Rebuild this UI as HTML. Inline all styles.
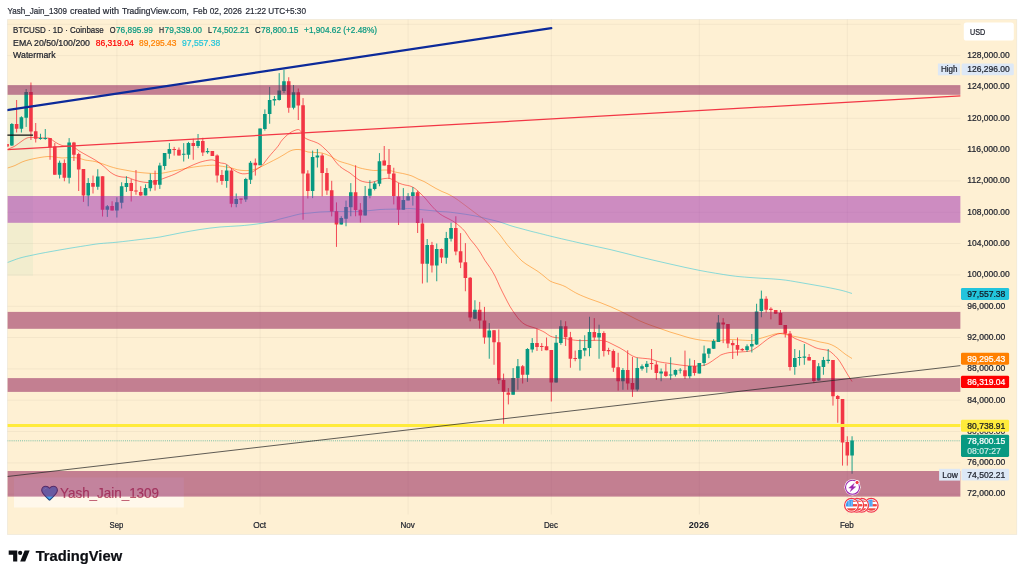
<!DOCTYPE html>
<html lang="en"><head><meta charset="utf-8"><title>BTCUSD 1D Coinbase - TradingView snapshot</title>
<style>
html,body{margin:0;padding:0;background:#fff}
body{width:1024px;height:578px;position:relative;overflow:hidden}
svg{display:block;font-family:"Liberation Sans",sans-serif}
</style></head><body>
<svg width="1024" height="578" viewBox="0 0 1024 578" >
<defs><clipPath id="plot"><rect x="7.4" y="19.4" width="953.2" height="495.1"/></clipPath></defs>
<rect x="7.4" y="19.4" width="1009.4" height="515.2" fill="#FEF0D3" stroke="#9a9a9a" stroke-opacity="0.13" stroke-width="0.9"/>
<path d="M7.4 24.27H960.6M7.4 55.60H960.6M7.4 86.93H960.6M7.4 118.26H960.6M7.4 149.59H960.6M7.4 180.92H960.6M7.4 212.25H960.6M7.4 243.58H960.6M7.4 274.91H960.6M7.4 306.24H960.6M7.4 337.57H960.6M7.4 368.90H960.6M7.4 400.23H960.6M7.4 431.56H960.6M7.4 462.89H960.6M7.4 494.22H960.6M116.88 19.4V514.5M260.10 19.4V514.5M408.09 19.4V514.5M551.31 19.4V514.5M699.31 19.4V514.5M847.30 19.4V514.5" stroke="#000" stroke-opacity="0.055" stroke-width="0.8" fill="none"/>
<g clip-path="url(#plot)">
<rect x="7.4" y="85.1" width="25.6" height="190.6" fill="#A6D9B0" fill-opacity="0.13"/>
<rect x="14" y="477.5" width="169.8" height="30" fill="#fff" fill-opacity="0.55"/>
<path d="M7.4 440.8H960.6" stroke="#089981" stroke-width="0.8" stroke-dasharray="0.9 1.2" stroke-opacity="0.75"/>
<path d="M7.5 262.5C9.6 261.8 15.8 259.2 20.0 258.0C24.2 256.8 28.0 256.1 33.0 255.0C38.0 253.9 43.8 252.8 50.0 251.7C56.2 250.6 63.3 249.3 70.0 248.2C76.7 247.1 85.0 245.8 90.0 245.0C95.0 244.2 95.5 244.1 100.0 243.6C104.5 243.1 110.3 242.9 117.0 242.2C123.7 241.5 132.8 240.4 140.0 239.5C147.2 238.6 153.3 238.1 160.0 237.0C166.7 235.9 173.3 234.2 180.0 233.0C186.7 231.8 193.3 230.5 200.0 229.5C206.7 228.5 213.3 227.6 220.0 227.0C226.7 226.4 233.8 226.3 240.0 225.8C246.2 225.3 252.0 224.7 257.0 224.0C262.0 223.3 266.2 222.6 270.0 221.8C273.8 221.0 276.7 219.9 280.0 219.0C283.3 218.1 286.7 217.3 290.0 216.5C293.3 215.7 296.7 214.6 300.0 214.0C303.3 213.4 306.7 213.3 310.0 213.0C313.3 212.7 316.7 212.2 320.0 212.0C323.3 211.8 326.7 211.7 330.0 211.6C333.3 211.5 335.0 211.5 340.0 211.5C345.0 211.5 353.3 211.8 360.0 211.5C366.7 211.2 373.3 209.9 380.0 209.5C386.7 209.1 395.0 209.2 400.0 209.0C405.0 208.8 406.7 208.4 410.0 208.5C413.3 208.6 416.7 209.2 420.0 209.5C423.3 209.8 426.7 210.2 430.0 210.5C433.3 210.8 437.0 211.2 440.0 211.5C443.0 211.8 444.7 211.7 448.0 212.0C451.3 212.3 456.3 213.0 460.0 213.5C463.7 214.0 466.7 214.4 470.0 215.0C473.3 215.6 476.7 216.2 480.0 217.0C483.3 217.8 486.7 218.7 490.0 219.5C493.3 220.3 496.7 221.0 500.0 222.0C503.3 223.0 506.7 224.4 510.0 225.5C513.3 226.6 516.7 227.4 520.0 228.3C523.3 229.2 527.0 230.2 530.0 231.0C533.0 231.8 534.3 232.1 538.0 233.0C541.7 233.9 545.0 234.8 552.0 236.5C559.0 238.2 570.3 240.8 580.0 243.0C589.7 245.2 600.0 247.2 610.0 249.5C620.0 251.8 630.0 254.6 640.0 257.0C650.0 259.4 660.0 261.8 670.0 264.0C680.0 266.2 690.0 268.6 700.0 270.5C710.0 272.4 721.7 274.3 730.0 275.5C738.3 276.7 741.7 276.8 750.0 277.5C758.3 278.2 771.7 278.7 780.0 279.5C788.3 280.3 793.3 281.4 800.0 282.5C806.7 283.6 813.3 284.8 820.0 286.0C826.7 287.2 834.7 288.8 840.0 290.0C845.3 291.2 850.0 292.9 852.0 293.5" stroke="#26C6DA" stroke-width="0.9" fill="none" stroke-linejoin="round" stroke-opacity="0.6"/>
<path d="M7.5 168.0C8.8 167.6 12.6 166.5 15.0 165.5C17.4 164.5 19.5 163.0 22.0 162.0C24.5 161.0 27.0 160.2 30.0 159.5C33.0 158.8 37.0 158.0 40.0 157.5C43.0 157.0 45.5 156.6 48.0 156.5C50.5 156.4 52.7 156.8 55.0 157.0C57.3 157.2 59.5 157.9 62.0 158.0C64.5 158.1 67.3 157.5 70.0 157.5C72.7 157.5 75.5 157.6 78.0 158.0C80.5 158.4 82.2 159.4 85.0 160.0C87.8 160.6 92.0 160.8 95.0 161.5C98.0 162.2 100.5 163.2 103.0 164.0C105.5 164.8 107.7 165.8 110.0 166.5C112.3 167.2 114.5 167.9 117.0 168.5C119.5 169.1 122.3 169.5 125.0 170.0C127.7 170.5 130.5 171.1 133.0 171.5C135.5 171.9 137.5 172.2 140.0 172.5C142.5 172.8 145.5 173.0 148.0 173.2C150.5 173.4 152.6 173.5 155.0 173.5C157.4 173.5 159.2 173.6 162.5 173.1C165.8 172.6 170.8 171.4 175.0 170.6C179.2 169.8 183.3 168.8 187.5 168.1C191.7 167.4 195.8 166.7 200.0 166.2C204.2 165.8 209.2 165.3 212.5 165.2C215.8 165.2 216.9 165.6 220.0 166.0C223.1 166.4 228.1 167.3 231.0 167.9C233.9 168.5 235.2 169.3 237.5 169.8C239.8 170.2 242.5 170.6 245.0 170.6C247.5 170.6 250.0 170.6 252.5 170.0C255.0 169.4 257.3 168.5 260.0 167.2C262.7 166.0 265.8 164.3 268.8 162.8C271.8 161.2 275.3 159.6 278.0 158.1C280.7 156.6 283.0 155.2 285.0 154.0C287.0 152.8 288.2 151.8 290.0 151.0C291.8 150.2 294.0 149.7 296.0 149.5C298.0 149.3 300.0 149.6 302.0 150.0C304.0 150.4 305.8 151.6 308.0 152.0C310.2 152.4 312.7 152.3 315.0 152.5C317.3 152.7 319.5 152.4 322.0 153.0C324.5 153.6 327.8 155.0 330.0 156.0C332.2 157.0 333.3 158.1 335.0 159.0C336.7 159.9 337.5 160.6 340.0 161.5C342.5 162.4 346.7 163.4 350.0 164.5C353.3 165.6 356.7 167.1 360.0 168.0C363.3 168.9 367.5 169.6 370.0 170.0C372.5 170.4 372.5 170.5 375.0 170.5C377.5 170.5 382.5 170.0 385.0 170.0C387.5 170.0 388.3 170.2 390.0 170.5C391.7 170.8 392.5 171.4 395.0 172.0C397.5 172.6 402.2 173.3 405.0 174.0C407.8 174.7 409.8 175.2 412.0 176.0C414.2 176.8 416.0 178.1 418.0 179.0C420.0 179.9 422.0 180.5 424.0 181.5C426.0 182.5 428.0 183.8 430.0 185.0C432.0 186.2 434.0 187.4 436.0 188.5C438.0 189.6 440.0 190.6 442.0 191.5C444.0 192.4 445.8 192.9 448.0 194.0C450.2 195.1 452.7 196.5 455.0 198.0C457.3 199.5 459.5 201.2 462.0 203.0C464.5 204.8 467.3 207.0 470.0 209.0C472.7 211.0 475.5 213.2 478.0 215.0C480.5 216.8 482.7 218.2 485.0 220.0C487.3 221.8 489.5 223.5 492.0 226.0C494.5 228.5 497.5 231.9 500.0 235.0C502.5 238.1 504.5 241.4 507.0 244.5C509.5 247.6 512.5 250.8 515.0 253.5C517.5 256.2 519.5 258.8 522.0 261.0C524.5 263.2 527.3 264.8 530.0 266.5C532.7 268.2 535.5 269.8 538.0 271.5C540.5 273.2 543.0 275.4 545.0 277.0C547.0 278.6 548.3 280.0 550.0 281.0C551.7 282.0 553.3 282.4 555.0 283.0C556.7 283.6 558.3 283.9 560.0 284.5C561.7 285.1 563.3 285.7 565.0 286.5C566.7 287.3 567.8 288.2 570.0 289.5C572.2 290.8 574.7 292.4 578.0 294.0C581.3 295.6 586.3 297.6 590.0 299.0C593.7 300.4 596.7 301.2 600.0 302.5C603.3 303.8 606.7 305.1 610.0 306.5C613.3 307.9 616.7 309.4 620.0 311.0C623.3 312.6 626.7 314.3 630.0 316.0C633.3 317.7 636.7 319.5 640.0 321.0C643.3 322.5 646.7 323.8 650.0 325.0C653.3 326.2 656.7 327.3 660.0 328.5C663.3 329.7 666.7 330.9 670.0 332.0C673.3 333.1 676.7 334.0 680.0 335.0C683.3 336.0 686.7 337.2 690.0 338.0C693.3 338.8 696.7 339.5 700.0 340.0C703.3 340.5 706.7 340.9 710.0 341.0C713.3 341.1 716.7 340.8 720.0 340.5C723.3 340.2 726.7 339.6 730.0 339.5C733.3 339.4 736.7 339.8 740.0 340.0C743.3 340.2 747.5 340.5 750.0 340.5C752.5 340.5 753.3 340.3 755.0 340.0C756.7 339.7 757.5 339.2 760.0 338.5C762.5 337.8 767.5 336.2 770.0 335.5C772.5 334.8 773.3 334.3 775.0 334.0C776.7 333.7 777.5 333.2 780.0 333.5C782.5 333.8 786.7 334.8 790.0 335.5C793.3 336.2 796.7 336.8 800.0 337.5C803.3 338.2 806.7 338.8 810.0 339.5C813.3 340.2 817.0 341.3 820.0 342.0C823.0 342.7 825.5 342.8 828.0 343.5C830.5 344.2 833.0 345.4 835.0 346.5C837.0 347.6 838.3 348.8 840.0 350.0C841.7 351.2 843.0 352.6 845.0 354.0C847.0 355.4 850.8 357.8 852.0 358.5" stroke="#FF8000" stroke-width="0.9" fill="none" stroke-linejoin="round" stroke-opacity="0.6"/>
<path d="M7.5 149.4C8.8 148.8 12.6 147.4 15.0 146.0C17.4 144.6 20.0 142.3 22.0 141.0C24.0 139.7 25.2 138.6 27.0 138.0C28.8 137.4 30.0 137.5 33.0 137.5C36.0 137.5 42.2 137.8 45.0 138.0C47.8 138.2 48.3 137.8 50.0 138.5C51.7 139.2 53.0 140.8 55.0 142.0C57.0 143.2 59.5 144.8 62.0 145.5C64.5 146.2 67.8 145.6 70.0 146.0C72.2 146.4 73.3 147.1 75.0 148.0C76.7 148.9 77.8 150.2 80.0 151.5C82.2 152.8 85.3 154.5 88.0 156.0C90.7 157.5 93.3 158.8 96.0 160.5C98.7 162.2 101.7 164.6 104.0 166.5C106.3 168.4 108.0 170.5 110.0 172.0C112.0 173.5 114.0 174.7 116.0 175.5C118.0 176.3 120.0 176.7 122.0 177.0C124.0 177.3 126.2 177.1 128.0 177.5C129.8 177.9 131.0 178.8 133.0 179.5C135.0 180.2 137.7 181.0 140.0 181.5C142.3 182.0 145.0 182.4 147.0 182.5C149.0 182.6 150.2 182.3 152.0 182.0C153.8 181.7 156.2 181.0 158.0 180.5C159.8 180.0 159.7 179.8 162.5 178.8C165.3 177.7 170.8 175.9 175.0 174.0C179.2 172.1 183.3 169.5 187.5 167.5C191.7 165.5 196.2 163.5 200.0 162.2C203.8 161.0 207.5 160.3 210.0 160.0C212.5 159.7 213.3 160.1 215.0 160.6C216.7 161.1 218.2 162.2 220.0 162.8C221.8 163.3 224.2 163.1 226.0 164.0C227.8 164.9 229.1 166.7 231.0 168.1C232.9 169.5 235.6 171.3 237.5 172.2C239.4 173.2 240.8 173.5 242.5 173.8C244.2 174.0 245.8 173.8 247.5 173.5C249.2 173.2 250.8 172.7 252.5 171.9C254.2 171.1 255.8 169.9 257.5 168.8C259.2 167.6 260.6 167.0 262.5 165.0C264.4 163.0 266.2 160.0 268.8 156.9C271.3 153.8 276.0 148.8 278.0 146.2C280.0 143.7 279.8 143.0 281.0 141.5C282.2 140.0 283.5 138.4 285.0 137.0C286.5 135.6 288.3 133.9 290.0 132.8C291.7 131.7 293.6 130.8 295.0 130.3C296.4 129.8 297.5 129.4 298.5 129.6C299.5 129.8 300.1 130.3 301.0 131.5C301.9 132.7 302.8 135.7 304.0 137.0C305.2 138.3 306.2 138.7 308.0 139.5C309.8 140.3 313.0 141.2 315.0 142.0C317.0 142.8 318.3 143.3 320.0 144.5C321.7 145.7 323.3 147.4 325.0 149.0C326.7 150.6 328.3 152.0 330.0 154.0C331.7 156.0 333.3 158.9 335.0 161.0C336.7 163.1 338.3 165.0 340.0 166.5C341.7 168.0 343.3 168.9 345.0 170.0C346.7 171.1 348.3 171.8 350.0 173.0C351.7 174.2 353.3 175.8 355.0 177.0C356.7 178.2 358.3 179.7 360.0 180.5C361.7 181.3 363.3 181.7 365.0 182.0C366.7 182.3 368.3 182.6 370.0 182.5C371.7 182.4 373.3 182.0 375.0 181.5C376.7 181.0 378.3 180.0 380.0 179.5C381.7 179.0 383.3 178.7 385.0 178.5C386.7 178.3 388.3 178.1 390.0 178.5C391.7 178.9 393.3 180.2 395.0 181.0C396.7 181.8 398.3 182.8 400.0 183.5C401.7 184.2 403.3 184.6 405.0 185.0C406.7 185.4 408.3 185.4 410.0 186.0C411.7 186.6 413.3 187.3 415.0 188.5C416.7 189.7 418.3 191.4 420.0 193.0C421.7 194.6 423.3 196.2 425.0 198.0C426.7 199.8 428.3 202.1 430.0 204.0C431.7 205.9 433.3 207.8 435.0 209.5C436.7 211.2 438.3 212.8 440.0 214.0C441.7 215.2 443.3 216.1 445.0 217.0C446.7 217.9 448.3 218.6 450.0 219.5C451.7 220.4 453.3 221.3 455.0 222.5C456.7 223.7 458.3 225.0 460.0 226.5C461.7 228.0 463.3 229.4 465.0 231.5C466.7 233.6 468.3 236.8 470.0 239.0C471.7 241.2 473.3 242.8 475.0 245.0C476.7 247.2 478.3 249.4 480.0 252.0C481.7 254.6 483.3 257.9 485.0 260.5C486.7 263.1 488.3 264.9 490.0 267.5C491.7 270.1 493.3 272.8 495.0 276.0C496.7 279.2 498.3 283.5 500.0 287.0C501.7 290.5 503.3 293.8 505.0 297.0C506.7 300.2 508.3 303.7 510.0 306.5C511.7 309.3 513.3 311.7 515.0 314.0C516.7 316.3 518.3 318.8 520.0 320.5C521.7 322.2 523.3 323.5 525.0 324.5C526.7 325.5 528.3 325.9 530.0 326.5C531.7 327.1 533.3 327.4 535.0 328.0C536.7 328.6 538.3 329.2 540.0 330.0C541.7 330.8 543.3 331.5 545.0 332.5C546.7 333.5 548.3 335.2 550.0 336.0C551.7 336.8 553.3 337.2 555.0 337.5C556.7 337.8 558.3 337.8 560.0 338.0C561.7 338.2 563.3 338.2 565.0 338.5C566.7 338.8 567.8 339.2 570.0 339.5C572.2 339.8 574.7 340.3 578.0 340.5C581.3 340.7 586.7 340.5 590.0 340.5C593.3 340.5 595.5 340.2 598.0 340.3C600.5 340.4 603.0 340.6 605.0 341.0C607.0 341.4 608.3 342.2 610.0 343.0C611.7 343.8 613.3 344.7 615.0 345.5C616.7 346.3 618.3 347.1 620.0 348.0C621.7 348.9 623.3 349.9 625.0 351.0C626.7 352.1 628.3 353.5 630.0 354.5C631.7 355.5 633.3 356.4 635.0 357.0C636.7 357.6 637.5 357.7 640.0 358.0C642.5 358.3 647.5 358.6 650.0 359.0C652.5 359.4 653.3 360.0 655.0 360.5C656.7 361.0 657.5 361.5 660.0 362.0C662.5 362.5 666.7 363.0 670.0 363.5C673.3 364.0 676.7 364.6 680.0 365.0C683.3 365.4 686.7 365.9 690.0 366.0C693.3 366.1 697.5 366.0 700.0 365.8C702.5 365.6 703.3 365.6 705.0 365.0C706.7 364.4 708.3 363.5 710.0 362.5C711.7 361.5 713.7 359.9 715.0 359.0C716.3 358.1 716.8 357.8 718.0 357.0C719.2 356.2 720.0 355.2 722.0 354.5C724.0 353.8 727.0 352.9 730.0 352.5C733.0 352.1 736.7 352.2 740.0 352.0C743.3 351.8 747.5 351.6 750.0 351.0C752.5 350.4 753.3 349.5 755.0 348.5C756.7 347.5 758.3 346.2 760.0 345.0C761.7 343.8 763.3 342.2 765.0 341.0C766.7 339.8 768.3 338.5 770.0 337.5C771.7 336.5 773.3 335.7 775.0 335.0C776.7 334.3 778.3 333.8 780.0 333.5C781.7 333.2 783.3 333.2 785.0 333.5C786.7 333.8 788.3 334.7 790.0 335.5C791.7 336.3 793.3 337.7 795.0 338.5C796.7 339.3 798.3 339.8 800.0 340.5C801.7 341.2 803.3 341.8 805.0 342.5C806.7 343.2 808.3 344.2 810.0 345.0C811.7 345.8 813.3 346.8 815.0 347.5C816.7 348.2 817.8 348.5 820.0 349.0C822.2 349.5 826.0 349.8 828.0 350.5C830.0 351.2 830.3 351.6 832.0 353.0C833.7 354.4 836.3 357.0 838.0 359.0C839.7 361.0 840.5 362.6 842.0 365.0C843.5 367.4 845.3 370.8 847.0 373.5C848.7 376.2 851.2 380.2 852.0 381.5" stroke="#FF0000" stroke-width="0.9" fill="none" stroke-linejoin="round" stroke-opacity="0.58"/>
<path d="M11.85 123.00V146.00M21.40 116.25V132.50M26.17 89.00V126.90M40.49 133.75V139.75M45.27 129.00V139.75M59.59 160.60V178.50M69.14 138.10V183.50M88.23 178.10V206.25M97.78 169.20V189.75M107.33 205.00V216.90M116.88 197.25V217.50M121.65 182.25V208.50M126.43 176.25V191.90M145.52 184.40V195.40M150.30 173.50V191.25M159.84 162.75V188.90M164.62 153.10V169.75M169.39 143.10V158.75M183.71 143.10V161.50M188.49 141.90V158.75M198.04 134.00V148.10M207.58 148.10V153.75M226.68 164.75V187.75M236.23 193.50V207.25M245.78 177.80V201.90M250.55 161.00V184.00M260.10 128.50V165.25M264.87 109.40V130.60M269.65 86.90V123.75M274.42 96.00V105.60M279.19 73.10V100.60M283.97 69.75V93.10M293.52 85.00V109.40M312.61 150.60V198.10M317.39 149.00V167.50M341.26 216.25V224.60M346.03 200.60V226.25M350.80 183.10V216.25M365.13 186.00V215.60M369.90 180.25V198.30M374.67 181.50V190.40M379.45 153.10V186.25M403.32 188.10V209.75M408.09 193.10V200.40M412.87 187.10V205.60M427.19 239.00V282.50M436.74 243.50V281.25M446.28 231.90V263.75M451.06 222.75V241.50M474.93 300.25V319.00M489.25 323.10V358.75M513.12 368.10V394.75M517.89 359.00V389.75M527.44 348.10V381.90M532.22 338.10V352.50M556.09 335.00V382.60M560.86 320.25V344.75M579.96 339.40V370.60M584.73 335.25V356.25M589.50 316.75V356.25M599.05 324.70V358.75M622.92 368.10V389.75M637.24 357.75V391.25M642.02 364.40V370.60M646.79 361.00V372.75M661.11 368.50V381.25M670.66 357.25V379.75M675.44 369.40V376.50M680.21 368.10V373.50M689.76 358.50V378.50M699.31 363.00V373.60M704.08 345.60V366.00M708.85 348.00V358.10M713.63 339.20V349.00M718.40 315.00V342.00M747.05 344.40V351.90M751.82 334.00V352.50M756.59 303.75V345.00M761.37 290.60V317.25M794.79 349.00V374.75M799.56 350.25V365.60M804.33 344.00V364.75M818.66 363.10V380.60M823.43 356.90V374.75M828.20 349.00V363.50M852.07 436.25V473.75" stroke="#089981" stroke-width="0.9" fill="none"/>
<path d="M10.05 124.00h3.6V145.60h-3.6zM19.60 117.25h3.6V128.75h-3.6zM24.37 92.10h3.6V117.75h-3.6zM38.69 138.10h3.6V139.00h-3.6zM43.47 138.10h3.6V139.00h-3.6zM57.79 162.75h3.6V174.75h-3.6zM67.34 142.50h3.6V177.75h-3.6zM86.43 183.10h3.6V195.60h-3.6zM95.98 176.40h3.6V186.75h-3.6zM105.53 206.25h3.6V209.75h-3.6zM115.08 202.25h3.6V210.60h-3.6zM119.85 186.25h3.6V202.75h-3.6zM124.63 183.10h3.6V186.90h-3.6zM143.72 188.10h3.6V195.40h-3.6zM148.50 180.00h3.6V188.30h-3.6zM158.04 165.60h3.6V184.75h-3.6zM162.82 153.10h3.6V166.00h-3.6zM167.59 149.00h3.6V153.75h-3.6zM181.91 153.75h3.6V154.75h-3.6zM186.69 142.90h3.6V154.75h-3.6zM196.24 141.00h3.6V146.00h-3.6zM205.78 151.00h3.6V152.25h-3.6zM224.88 170.60h3.6V181.00h-3.6zM234.43 199.00h3.6V204.00h-3.6zM243.98 179.00h3.6V199.40h-3.6zM248.75 162.75h3.6V179.75h-3.6zM258.30 128.50h3.6V165.25h-3.6zM263.07 114.00h3.6V129.00h-3.6zM267.85 100.00h3.6V114.00h-3.6zM272.62 99.10h3.6V100.60h-3.6zM277.39 90.60h3.6V100.00h-3.6zM282.17 81.25h3.6V91.00h-3.6zM291.72 92.25h3.6V107.75h-3.6zM310.81 156.90h3.6V191.00h-3.6zM315.59 155.60h3.6V157.50h-3.6zM339.46 218.10h3.6V224.60h-3.6zM344.23 206.90h3.6V218.75h-3.6zM349.00 192.20h3.6V207.25h-3.6zM363.33 195.90h3.6V215.60h-3.6zM368.10 188.75h3.6V195.80h-3.6zM372.87 183.50h3.6V189.00h-3.6zM377.65 161.25h3.6V183.75h-3.6zM401.52 200.00h3.6V209.75h-3.6zM406.29 196.25h3.6V200.40h-3.6zM411.07 192.20h3.6V196.00h-3.6zM425.39 245.00h3.6V263.75h-3.6zM434.94 249.00h3.6V265.40h-3.6zM444.48 238.10h3.6V257.75h-3.6zM449.26 228.10h3.6V238.75h-3.6zM473.13 309.75h3.6V318.75h-3.6zM487.45 330.40h3.6V337.50h-3.6zM511.32 378.10h3.6V394.75h-3.6zM516.09 366.25h3.6V378.10h-3.6zM525.64 349.00h3.6V374.75h-3.6zM530.42 343.10h3.6V349.40h-3.6zM554.29 342.75h3.6V382.60h-3.6zM559.06 326.25h3.6V343.10h-3.6zM578.16 350.00h3.6V358.75h-3.6zM582.93 348.10h3.6V350.40h-3.6zM587.70 331.90h3.6V348.10h-3.6zM597.25 333.10h3.6V337.50h-3.6zM621.12 370.00h3.6V381.25h-3.6zM635.44 368.10h3.6V389.40h-3.6zM640.22 366.25h3.6V368.75h-3.6zM644.99 363.75h3.6V366.90h-3.6zM659.31 371.50h3.6V373.40h-3.6zM668.86 374.40h3.6V375.60h-3.6zM673.64 370.00h3.6V374.75h-3.6zM678.41 369.73h3.6V370.62h-3.6zM687.96 366.00h3.6V376.25h-3.6zM697.51 363.10h3.6V373.40h-3.6zM702.28 353.50h3.6V363.10h-3.6zM707.05 348.40h3.6V353.75h-3.6zM711.83 341.10h3.6V348.75h-3.6zM716.60 322.50h3.6V341.90h-3.6zM745.25 346.25h3.6V350.00h-3.6zM750.02 344.00h3.6V346.60h-3.6zM754.79 311.50h3.6V344.40h-3.6zM759.57 298.75h3.6V311.00h-3.6zM792.99 358.10h3.6V366.90h-3.6zM797.76 356.90h3.6V358.10h-3.6zM802.53 356.60h3.6V357.75h-3.6zM816.86 366.25h3.6V380.60h-3.6zM821.63 360.00h3.6V366.90h-3.6zM826.40 359.75h3.6V361.00h-3.6zM850.27 440.60h3.6V455.60h-3.6z" fill="#089981"/>
<path d="M7.08 144.00V147.00M16.62 100.00V132.50M30.95 82.50V140.00M35.72 123.00V142.50M50.04 138.10V159.75M54.82 143.00V174.75M64.36 159.40V181.25M73.91 141.90V161.00M78.69 152.75V191.00M83.46 169.00V201.90M93.01 175.60V193.50M102.56 176.25V216.50M112.10 201.25V210.60M131.20 179.00V201.50M135.97 170.00V194.75M140.75 186.25V196.00M155.07 170.60V190.60M174.17 146.90V155.60M178.94 147.50V155.60M193.26 138.75V159.75M202.81 137.75V156.00M212.36 151.00V156.00M217.13 154.40V182.50M221.91 170.00V184.75M231.45 168.10V207.25M241.00 198.50V203.75M255.32 158.50V175.60M288.74 77.25V112.75M298.29 88.50V120.00M303.06 98.10V219.75M307.84 170.25V198.50M322.16 153.50V196.25M326.93 168.10V194.90M331.71 180.80V216.40M336.48 202.40V246.90M355.58 165.25V216.25M360.35 203.10V222.50M384.22 146.00V165.60M389.00 149.00V178.75M393.77 167.75V204.40M398.54 183.10V225.00M417.64 190.60V233.00M422.41 218.30V283.50M431.96 241.90V272.50M441.51 248.50V263.10M455.83 216.25V255.25M460.61 233.10V268.10M465.38 243.10V291.25M470.15 277.00V321.25M479.70 301.90V328.50M484.48 306.90V343.75M494.02 330.00V364.75M498.80 329.40V384.00M503.57 373.60V423.75M508.35 388.10V404.40M522.67 365.00V383.50M536.99 328.75V351.00M541.76 343.10V351.00M546.54 337.50V350.25M551.31 350.00V401.50M565.63 321.25V346.00M570.41 331.90V367.75M575.18 350.60V361.25M594.28 318.10V340.60M603.83 331.25V356.50M608.60 347.75V354.75M613.37 349.40V371.90M618.15 352.75V390.60M627.70 350.25V389.75M632.47 356.90V396.90M651.57 349.00V369.75M656.34 361.25V379.75M665.89 363.75V376.90M684.98 350.60V379.00M694.53 360.00V375.60M723.18 318.10V343.10M727.95 324.00V348.10M732.72 340.30V359.00M737.50 337.50V355.60M742.27 348.10V351.25M766.14 296.25V312.50M770.92 307.25V319.40M775.69 310.00V313.75M780.46 310.00V325.00M785.24 325.00V337.50M790.01 331.00V370.60M809.11 354.00V360.60M813.88 360.00V383.10M832.98 360.00V405.60M837.75 395.00V422.75M842.53 399.00V465.60M847.30 436.25V465.60" stroke="#F23645" stroke-width="0.9" fill="none"/>
<path d="M5.28 144.00h3.6V146.50h-3.6zM14.82 124.00h3.6V128.75h-3.6zM29.15 92.10h3.6V131.50h-3.6zM33.92 131.25h3.6V138.75h-3.6zM48.24 138.10h3.6V147.25h-3.6zM53.02 146.50h3.6V174.75h-3.6zM62.56 162.90h3.6V177.75h-3.6zM72.11 142.50h3.6V154.75h-3.6zM76.89 154.00h3.6V169.50h-3.6zM81.66 169.00h3.6V195.60h-3.6zM91.21 183.10h3.6V186.75h-3.6zM100.76 176.25h3.6V209.75h-3.6zM110.30 206.00h3.6V210.60h-3.6zM129.40 183.10h3.6V191.00h-3.6zM134.17 190.48h3.6V191.38h-3.6zM138.95 191.90h3.6V195.40h-3.6zM153.27 180.00h3.6V184.75h-3.6zM172.37 149.00h3.6V150.00h-3.6zM177.14 149.75h3.6V155.60h-3.6zM191.46 142.90h3.6V146.00h-3.6zM201.01 141.00h3.6V152.50h-3.6zM210.56 151.00h3.6V156.00h-3.6zM215.33 155.40h3.6V175.40h-3.6zM220.11 175.00h3.6V181.00h-3.6zM229.65 170.60h3.6V203.75h-3.6zM239.20 198.50h3.6V199.75h-3.6zM253.52 162.75h3.6V165.25h-3.6zM286.94 81.25h3.6V107.75h-3.6zM296.49 92.25h3.6V105.60h-3.6zM301.26 105.25h3.6V173.60h-3.6zM306.04 173.50h3.6V191.00h-3.6zM320.36 155.40h3.6V173.10h-3.6zM325.13 173.10h3.6V190.60h-3.6zM329.91 190.30h3.6V211.40h-3.6zM334.68 211.25h3.6V224.40h-3.6zM353.78 192.20h3.6V210.00h-3.6zM358.55 209.75h3.6V215.60h-3.6zM382.42 160.60h3.6V165.60h-3.6zM387.20 165.00h3.6V173.75h-3.6zM391.97 173.50h3.6V196.00h-3.6zM396.74 196.40h3.6V209.75h-3.6zM415.84 192.20h3.6V223.10h-3.6zM420.61 223.60h3.6V263.75h-3.6zM430.16 245.00h3.6V265.40h-3.6zM439.71 249.00h3.6V257.50h-3.6zM454.03 228.10h3.6V251.60h-3.6zM458.81 251.25h3.6V262.50h-3.6zM463.58 262.25h3.6V278.10h-3.6zM468.35 277.75h3.6V317.50h-3.6zM477.90 309.75h3.6V320.60h-3.6zM482.68 320.40h3.6V337.40h-3.6zM492.22 330.25h3.6V342.25h-3.6zM497.00 342.25h3.6V380.30h-3.6zM501.77 380.00h3.6V391.70h-3.6zM506.55 392.60h3.6V394.75h-3.6zM520.87 366.25h3.6V374.75h-3.6zM535.19 343.10h3.6V346.90h-3.6zM539.96 346.00h3.6V346.90h-3.6zM544.74 346.25h3.6V350.25h-3.6zM549.51 350.00h3.6V382.60h-3.6zM563.83 326.25h3.6V337.25h-3.6zM568.61 337.25h3.6V358.75h-3.6zM573.38 358.10h3.6V359.00h-3.6zM592.48 331.90h3.6V337.50h-3.6zM602.03 333.10h3.6V351.00h-3.6zM606.80 350.00h3.6V351.25h-3.6zM611.57 351.00h3.6V367.75h-3.6zM616.35 367.25h3.6V381.25h-3.6zM625.90 370.00h3.6V383.50h-3.6zM630.67 383.10h3.6V389.40h-3.6zM649.77 363.10h3.6V364.00h-3.6zM654.54 364.40h3.6V373.10h-3.6zM664.09 371.50h3.6V376.00h-3.6zM683.18 370.25h3.6V376.25h-3.6zM692.73 366.00h3.6V373.10h-3.6zM721.38 322.50h3.6V324.40h-3.6zM726.15 324.00h3.6V343.50h-3.6zM730.92 343.10h3.6V345.30h-3.6zM735.70 345.00h3.6V349.75h-3.6zM740.47 349.00h3.6V350.25h-3.6zM764.34 298.75h3.6V309.75h-3.6zM769.12 308.75h3.6V310.00h-3.6zM773.89 310.00h3.6V313.75h-3.6zM778.66 313.10h3.6V325.00h-3.6zM783.44 325.00h3.6V333.50h-3.6zM788.21 333.50h3.6V366.90h-3.6zM807.31 356.90h3.6V360.60h-3.6zM812.08 360.00h3.6V381.00h-3.6zM831.18 360.00h3.6V396.25h-3.6zM835.95 396.00h3.6V399.00h-3.6zM840.73 399.00h3.6V442.50h-3.6zM845.50 441.90h3.6V455.60h-3.6z" fill="#F23645"/>
<text x="60" y="498.0" font-size="14.3" fill="#A82546" textLength="99" lengthAdjust="spacingAndGlyphs" fill-opacity="0.75" stroke="#A82546" stroke-width="0.15" stroke-opacity="0.75">Yash_Jain_1309</text><g transform="translate(41.7 486.2) scale(0.654 0.667)"><path d="M12 21C5 15 0 10.8 0 6.1 0 2.6 2.7 0 6.1 0c2.3 0 4.5 1.2 5.9 3.1C13.4 1.2 15.6 0 17.9 0 21.3 0 24 2.6 24 6.1c0 4.700-5 8.900-12 14.900z" fill="#4AA6F2" stroke="#23487F" stroke-width="1.6" stroke-linejoin="round"/><path d="M3.600 5.500c0.600-1.600 1.800-2.400 3-2.200" stroke="#9fd0fa" stroke-width="1.1" fill="none" stroke-linecap="round"/></g>
<rect x="7.4" y="85.1" width="953.2" height="9.70" fill="#880E4F" fill-opacity="0.5"/>
<rect x="7.4" y="311.9" width="953.2" height="16.90" fill="#880E4F" fill-opacity="0.5"/>
<rect x="7.4" y="378.1" width="953.2" height="13.80" fill="#880E4F" fill-opacity="0.5"/>
<rect x="7.4" y="471.0" width="953.2" height="25.60" fill="#880E4F" fill-opacity="0.5"/>
<rect x="7.4" y="196" width="953.2" height="26.8" fill="#9C27B0" fill-opacity="0.5"/>
<path d="M7.4 425.4H960.6" stroke="#FFEB3B" stroke-width="3"/>
<path d="M7.4 476.5L960.6 365.6" stroke="#2a2a2a" stroke-width="0.75"/>
<path d="M7.4 149.6L960.6 95.9" stroke="#F23645" stroke-width="1.25"/>
<path d="M7 110.1L551.3 28.2" stroke="#0C2A9A" stroke-width="2.2" stroke-linecap="round"/>
<path d="M7 135.1H33" stroke="#111" stroke-width="1.1"/>
</g>
<g><circle cx="871.2" cy="505.2" r="7.65" fill="#fff" fill-opacity="0.8"/><circle cx="871.2" cy="505.2" r="6.9" fill="#fff" stroke="#F23645" stroke-width="1.25"/><clipPath id="fc8712"><circle cx="871.2" cy="505.2" r="5.6000000000000005"/></clipPath><g clip-path="url(#fc8712)"><rect x="864.3000000000001" y="498.3" width="13.8" height="13.8" fill="#fff"/><rect x="872.40" y="500.50" width="6.9" height="1.30" fill="#F0483E"/><rect x="872.40" y="504.10" width="6.9" height="2.30" fill="#F0483E"/><rect x="864.3000000000001" y="508.30" width="13.8" height="3" fill="#F0483E"/><rect x="864.3000000000001" y="498.3" width="8.200000000000001" height="8.200000000000001" fill="#3D9BF0"/><rect x="867.80" y="500.60" width="0.5" height="5.3" fill="#fff" fill-opacity="0.55"/><rect x="869.30" y="500.60" width="0.5" height="5.3" fill="#fff" fill-opacity="0.55"/><rect x="870.80" y="500.60" width="0.5" height="5.3" fill="#fff" fill-opacity="0.55"/></g></g><g><circle cx="861.6" cy="505.2" r="7.65" fill="#fff" fill-opacity="0.8"/><circle cx="861.6" cy="505.2" r="6.9" fill="#fff" stroke="#F23645" stroke-width="1.25"/><clipPath id="fc8616"><circle cx="861.6" cy="505.2" r="5.6000000000000005"/></clipPath><g clip-path="url(#fc8616)"><rect x="854.7" y="498.3" width="13.8" height="13.8" fill="#fff"/><rect x="862.80" y="500.50" width="6.9" height="1.30" fill="#F0483E"/><rect x="862.80" y="504.10" width="6.9" height="2.30" fill="#F0483E"/><rect x="854.7" y="508.30" width="13.8" height="3" fill="#F0483E"/><rect x="854.7" y="498.3" width="8.200000000000001" height="8.200000000000001" fill="#3D9BF0"/><rect x="858.20" y="500.60" width="0.5" height="5.3" fill="#fff" fill-opacity="0.55"/><rect x="859.70" y="500.60" width="0.5" height="5.3" fill="#fff" fill-opacity="0.55"/><rect x="861.20" y="500.60" width="0.5" height="5.3" fill="#fff" fill-opacity="0.55"/></g></g><g><circle cx="856.8" cy="505.2" r="7.65" fill="#fff" fill-opacity="0.8"/><circle cx="856.8" cy="505.2" r="6.9" fill="#fff" stroke="#F23645" stroke-width="1.25"/><clipPath id="fc8568"><circle cx="856.8" cy="505.2" r="5.6000000000000005"/></clipPath><g clip-path="url(#fc8568)"><rect x="849.9" y="498.3" width="13.8" height="13.8" fill="#fff"/><rect x="858.00" y="500.50" width="6.9" height="1.30" fill="#F0483E"/><rect x="858.00" y="504.10" width="6.9" height="2.30" fill="#F0483E"/><rect x="849.9" y="508.30" width="13.8" height="3" fill="#F0483E"/><rect x="849.9" y="498.3" width="8.200000000000001" height="8.200000000000001" fill="#3D9BF0"/><rect x="853.40" y="500.60" width="0.5" height="5.3" fill="#fff" fill-opacity="0.55"/><rect x="854.90" y="500.60" width="0.5" height="5.3" fill="#fff" fill-opacity="0.55"/><rect x="856.40" y="500.60" width="0.5" height="5.3" fill="#fff" fill-opacity="0.55"/></g></g><g><circle cx="851.5" cy="505.2" r="7.65" fill="#fff" fill-opacity="0.8"/><circle cx="851.5" cy="505.2" r="6.9" fill="#fff" stroke="#F23645" stroke-width="1.25"/><clipPath id="fc8515"><circle cx="851.5" cy="505.2" r="5.6000000000000005"/></clipPath><g clip-path="url(#fc8515)"><rect x="844.6" y="498.3" width="13.8" height="13.8" fill="#fff"/><rect x="852.70" y="500.50" width="6.9" height="1.30" fill="#F0483E"/><rect x="852.70" y="504.10" width="6.9" height="2.30" fill="#F0483E"/><rect x="844.6" y="508.30" width="13.8" height="3" fill="#F0483E"/><rect x="844.6" y="498.3" width="8.200000000000001" height="8.200000000000001" fill="#3D9BF0"/><rect x="848.10" y="500.60" width="0.5" height="5.3" fill="#fff" fill-opacity="0.55"/><rect x="849.60" y="500.60" width="0.5" height="5.3" fill="#fff" fill-opacity="0.55"/><rect x="851.10" y="500.60" width="0.5" height="5.3" fill="#fff" fill-opacity="0.55"/></g></g>
<circle cx="852.5" cy="487.3" r="8.1" fill="#fff"/><circle cx="852.5" cy="487.3" r="7" fill="#fff" stroke="#9C27B0" stroke-width="1.1"/>
<path d="M854.40 483.20L848.70 488.00L851.60 488.20L850.10 491.80L855.80 486.70L852.90 486.50z" fill="#9C27B0" stroke="#9C27B0" stroke-width="0.3" stroke-linejoin="round"/>
<circle cx="857.10" cy="482.50" r="2.1" fill="#F23645" stroke="#fff" stroke-width="1"/>
<rect x="963.8" y="22.5" width="50" height="18.1" rx="2.6" fill="#fff"/>
<text x="970" y="35.1" font-size="8.5" fill="#1b1f2a" textLength="15.2" lengthAdjust="spacingAndGlyphs" stroke="#1b1f2a" stroke-width="0.22">USD</text>
<text x="967.3" y="58.0" font-size="8.5" fill="#1b1f2a" textLength="42.4" lengthAdjust="spacingAndGlyphs" stroke="#1b1f2a" stroke-width="0.22">128,000.00</text>
<text x="967.3" y="89.32" font-size="8.5" fill="#1b1f2a" textLength="42.4" lengthAdjust="spacingAndGlyphs" stroke="#1b1f2a" stroke-width="0.22">124,000.00</text>
<text x="967.3" y="120.64" font-size="8.5" fill="#1b1f2a" textLength="42.4" lengthAdjust="spacingAndGlyphs" stroke="#1b1f2a" stroke-width="0.22">120,000.00</text>
<text x="967.3" y="151.96" font-size="8.5" fill="#1b1f2a" textLength="42.4" lengthAdjust="spacingAndGlyphs" stroke="#1b1f2a" stroke-width="0.22">116,000.00</text>
<text x="967.3" y="183.28" font-size="8.5" fill="#1b1f2a" textLength="42.4" lengthAdjust="spacingAndGlyphs" stroke="#1b1f2a" stroke-width="0.22">112,000.00</text>
<text x="967.3" y="214.6" font-size="8.5" fill="#1b1f2a" textLength="42.4" lengthAdjust="spacingAndGlyphs" stroke="#1b1f2a" stroke-width="0.22">108,000.00</text>
<text x="967.3" y="245.92" font-size="8.5" fill="#1b1f2a" textLength="42.4" lengthAdjust="spacingAndGlyphs" stroke="#1b1f2a" stroke-width="0.22">104,000.00</text>
<text x="967.3" y="277.24" font-size="8.5" fill="#1b1f2a" textLength="42.4" lengthAdjust="spacingAndGlyphs" stroke="#1b1f2a" stroke-width="0.22">100,000.00</text>
<text x="967.3" y="308.56" font-size="8.5" fill="#1b1f2a" textLength="38.1" lengthAdjust="spacingAndGlyphs" stroke="#1b1f2a" stroke-width="0.22">96,000.00</text>
<text x="967.3" y="339.88" font-size="8.5" fill="#1b1f2a" textLength="38.1" lengthAdjust="spacingAndGlyphs" stroke="#1b1f2a" stroke-width="0.22">92,000.00</text>
<text x="967.3" y="371.2" font-size="8.5" fill="#1b1f2a" textLength="38.1" lengthAdjust="spacingAndGlyphs" stroke="#1b1f2a" stroke-width="0.22">88,000.00</text>
<text x="967.3" y="402.52" font-size="8.5" fill="#1b1f2a" textLength="38.1" lengthAdjust="spacingAndGlyphs" stroke="#1b1f2a" stroke-width="0.22">84,000.00</text>
<text x="967.3" y="433.84" font-size="8.5" fill="#1b1f2a" textLength="38.1" lengthAdjust="spacingAndGlyphs" stroke="#1b1f2a" stroke-width="0.22">80,000.00</text>
<text x="967.3" y="465.16" font-size="8.5" fill="#1b1f2a" textLength="38.1" lengthAdjust="spacingAndGlyphs" stroke="#1b1f2a" stroke-width="0.22">76,000.00</text>
<text x="967.3" y="496.48" font-size="8.5" fill="#1b1f2a" textLength="38.1" lengthAdjust="spacingAndGlyphs" stroke="#1b1f2a" stroke-width="0.22">72,000.00</text>
<rect x="937.9" y="63.50000000000001" width="22.2" height="11.8" fill="#DDE8F6"/><rect x="961.6" y="63.50000000000001" width="52.2" height="11.8" rx="1.4" fill="#DDE8F6"/>
<text x="940.9" y="72.30000000000001" font-size="8.5" fill="#1b1f2a" textLength="16.6" lengthAdjust="spacingAndGlyphs" stroke="#1b1f2a" stroke-width="0.22">High</text>
<text x="967.3" y="72.30000000000001" font-size="8.5" fill="#1b1f2a" textLength="42.4" lengthAdjust="spacingAndGlyphs" stroke="#1b1f2a" stroke-width="0.22">126,296.00</text>
<rect x="961" y="287.90" width="48.1" height="12.1" rx="1.4" fill="#22C4DC"/><text x="967.3" y="296.85" font-size="8.5" fill="#131722" textLength="38.1" lengthAdjust="spacingAndGlyphs" stroke="#131722" stroke-width="0.22">97,557.38</text>
<rect x="961" y="352.65" width="48.1" height="12.1" rx="1.4" fill="#FF8000"/><text x="967.3" y="361.6" font-size="8.5" fill="#fff" textLength="38.1" lengthAdjust="spacingAndGlyphs" stroke="#fff" stroke-width="0.22">89,295.43</text>
<rect x="961" y="375.85" width="48.1" height="12.1" rx="1.4" fill="#FF0000"/><text x="967.3" y="384.8" font-size="8.5" fill="#fff" textLength="38.1" lengthAdjust="spacingAndGlyphs" stroke="#fff" stroke-width="0.22">86,319.04</text>
<rect x="961" y="419.75" width="48.1" height="12.1" rx="1.4" fill="#FFEB3B"/><text x="967.3" y="428.7" font-size="8.5" fill="#131722" textLength="38.1" lengthAdjust="spacingAndGlyphs" stroke="#131722" stroke-width="0.22">80,738.91</text>
<rect x="961" y="434.8" width="48.1" height="22.1" rx="1.4" fill="#089981"/>
<text x="967.3" y="443.7" font-size="8.5" fill="#fff" textLength="38.1" lengthAdjust="spacingAndGlyphs" stroke="#fff" stroke-width="0.22">78,800.15</text>
<text x="967.3" y="453.6" font-size="8.5" fill="#fff" textLength="33.5" lengthAdjust="spacingAndGlyphs" fill-opacity="0.72" stroke="#fff" stroke-width="0.22" stroke-opacity="0.72">08:07:27</text>
<rect x="939.1" y="468.8" width="21" height="11.8" fill="#DDE8F6"/><rect x="961.6" y="468.8" width="47.5" height="11.8" rx="1.4" fill="#DDE8F6"/>
<text x="942.3" y="477.59999999999997" font-size="8.5" fill="#1b1f2a" textLength="15.5" lengthAdjust="spacingAndGlyphs" stroke="#1b1f2a" stroke-width="0.22">Low</text>
<text x="967.3" y="477.59999999999997" font-size="8.5" fill="#1b1f2a" textLength="38.1" lengthAdjust="spacingAndGlyphs" stroke="#1b1f2a" stroke-width="0.22">74,502.21</text>
<text x="109.6" y="527.7" font-size="8.5" fill="#1b1f2a" textLength="13.8" lengthAdjust="spacingAndGlyphs" stroke="#1b1f2a" stroke-width="0.22">Sep</text>
<text x="253.2" y="527.7" font-size="8.5" fill="#1b1f2a" textLength="13" lengthAdjust="spacingAndGlyphs" stroke="#1b1f2a" stroke-width="0.22">Oct</text>
<text x="400.5" y="527.7" font-size="8.5" fill="#1b1f2a" textLength="14.3" lengthAdjust="spacingAndGlyphs" stroke="#1b1f2a" stroke-width="0.22">Nov</text>
<text x="543.9" y="527.7" font-size="8.5" fill="#1b1f2a" textLength="14" lengthAdjust="spacingAndGlyphs" stroke="#1b1f2a" stroke-width="0.22">Dec</text>
<text x="688.7" y="527.7" font-size="8.5" fill="#1b1f2a" textLength="20.4" lengthAdjust="spacingAndGlyphs" font-weight="bold">2026</text>
<text x="839.9" y="527.7" font-size="8.5" fill="#1b1f2a" textLength="14" lengthAdjust="spacingAndGlyphs" stroke="#1b1f2a" stroke-width="0.22">Feb</text>
<text x="7.5" y="13.7" font-size="9.1" fill="#2a2e39" textLength="59.4" lengthAdjust="spacingAndGlyphs" stroke="#2a2e39" stroke-width="0.22">Yash_Jain_1309</text>
<text x="70" y="13.7" font-size="9.1" fill="#2a2e39" textLength="49" lengthAdjust="spacingAndGlyphs" stroke="#2a2e39" stroke-width="0.22">created with</text>
<text x="121.9" y="13.7" font-size="9.1" fill="#2a2e39" textLength="67.1" lengthAdjust="spacingAndGlyphs" stroke="#2a2e39" stroke-width="0.22">TradingView.com,</text>
<text x="193" y="13.7" font-size="9.1" fill="#2a2e39" textLength="49" lengthAdjust="spacingAndGlyphs" stroke="#2a2e39" stroke-width="0.22">Feb 02, 2026</text>
<text x="245.5" y="13.7" font-size="9.1" fill="#2a2e39" textLength="60.5" lengthAdjust="spacingAndGlyphs" stroke="#2a2e39" stroke-width="0.22">21:22 UTC+5:30</text>
<text x="13.1" y="33.1" font-size="9.1" fill="#1b1f2a" textLength="90.6" lengthAdjust="spacingAndGlyphs" stroke="#1b1f2a" stroke-width="0.22">BTCUSD · 1D · Coinbase</text>
<text x="109.7" y="33.1" font-size="9.1" fill="#1b1f2a" textLength="5.8" lengthAdjust="spacingAndGlyphs" stroke="#1b1f2a" stroke-width="0.22">O</text>
<text x="116" y="33.1" font-size="9.1" fill="#089981" textLength="37" lengthAdjust="spacingAndGlyphs" stroke="#089981" stroke-width="0.22">76,895.99</text>
<text x="159" y="33.1" font-size="9.1" fill="#1b1f2a" textLength="5.1" lengthAdjust="spacingAndGlyphs" stroke="#1b1f2a" stroke-width="0.22">H</text>
<text x="164.6" y="33.1" font-size="9.1" fill="#089981" textLength="37.4" lengthAdjust="spacingAndGlyphs" stroke="#089981" stroke-width="0.22">79,339.00</text>
<text x="208" y="33.1" font-size="9.1" fill="#1b1f2a" textLength="4.0" lengthAdjust="spacingAndGlyphs" stroke="#1b1f2a" stroke-width="0.22">L</text>
<text x="212.5" y="33.1" font-size="9.1" fill="#089981" textLength="36.8" lengthAdjust="spacingAndGlyphs" stroke="#089981" stroke-width="0.22">74,502.21</text>
<text x="254.9" y="33.1" font-size="9.1" fill="#1b1f2a" textLength="5.6" lengthAdjust="spacingAndGlyphs" stroke="#1b1f2a" stroke-width="0.22">C</text>
<text x="261" y="33.1" font-size="9.1" fill="#089981" textLength="37.3" lengthAdjust="spacingAndGlyphs" stroke="#089981" stroke-width="0.22">78,800.15</text>
<text x="304.1" y="33.1" font-size="9.1" fill="#089981" textLength="72.9" lengthAdjust="spacingAndGlyphs" stroke="#089981" stroke-width="0.22">+1,904.62 (+2.48%)</text>
<text x="13.1" y="45.6" font-size="9.1" fill="#1b1f2a" textLength="76.9" lengthAdjust="spacingAndGlyphs" stroke="#1b1f2a" stroke-width="0.22">EMA 20/50/100/200</text>
<text x="95.7" y="45.6" font-size="9.1" fill="#FF0000" textLength="38" lengthAdjust="spacingAndGlyphs" stroke="#FF0000" stroke-width="0.22">86,319.04</text>
<text x="139" y="45.6" font-size="9.1" fill="#FF8000" textLength="37.5" lengthAdjust="spacingAndGlyphs" stroke="#FF8000" stroke-width="0.22">89,295.43</text>
<text x="182" y="45.6" font-size="9.1" fill="#26C6DA" textLength="38.2" lengthAdjust="spacingAndGlyphs" stroke="#26C6DA" stroke-width="0.22">97,557.38</text>
<text x="13.1" y="57.8" font-size="9.1" fill="#1b1f2a" textLength="42.5" lengthAdjust="spacingAndGlyphs" stroke="#1b1f2a" stroke-width="0.22">Watermark</text>
<g transform="translate(8.700 550.600) scale(0.5900 0.6056)"><path d="M14.500 18H7.500V7H0V0h14.500zM23 3.700a3.600 3.600 0 1 1-7.200 0 3.600 3.600 0 0 1 7.200 0zM28 18h-8.500l7.500-18h8.500z" fill="#0d0f14"/></g>
<text x="35.7" y="561.4" font-size="15.4" fill="#0d0f14" textLength="86.4" lengthAdjust="spacingAndGlyphs" font-weight="bold" stroke="#0d0f14" stroke-width="0.22">TradingView</text>
</svg>
</body></html>
